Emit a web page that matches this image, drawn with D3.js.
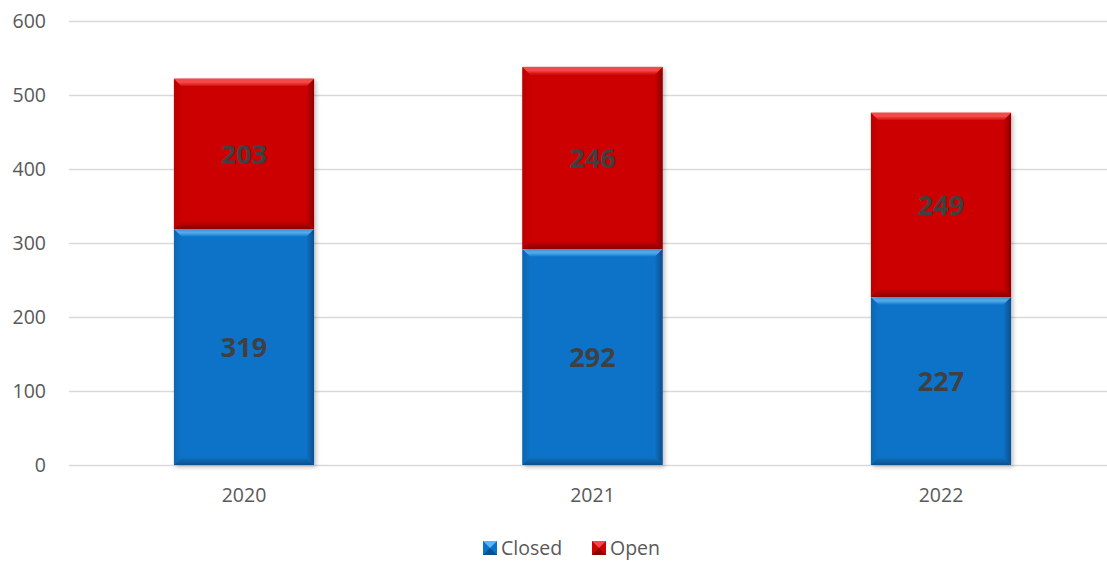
<!DOCTYPE html>
<html>
<head>
<meta charset="utf-8">
<script src="https://cdn.jsdelivr.net/npm/d3@7"></script>
<style>
html,body{margin:0;padding:0;background:#fff;}
svg{display:block;font-family:"Open Sans",sans-serif;}
</style>
</head>
<body>
<svg id="chart" width="1107" height="561"></svg>
<script>
const categories = ["2020", "2021", "2022"];
const closedValues = [319, 292, 227];
const openValues = [203, 246, 249];
const seriesNames = ["Closed", "Open"];
const yTicks = [0, 100, 200, 300, 400, 500, 600];

const W = 1107, H = 561;
const svg = d3.select("#chart");
const defs = svg.append("defs");

const x = d3.scaleBand().domain(categories).range([69.75, 1115.25]).paddingInner(0.598).paddingOuter(0.299);
const y = d3.scaleLinear().domain([0, 600]).range([465, 21]);

const palette = {
  Closed: {base: "#0873c8", light: "#5ab4fa", dark: "#0a4f8c", side: "#0b66b0"},
  Open:   {base: "#cc0303", light: "#f54848", dark: "#8a0202", side: "#b80303"}
};

seriesNames.forEach(s => {
  const p = palette[s];
  const gt = defs.append("linearGradient").attr("id", "top" + s).attr("x1", 0).attr("y1", 0).attr("x2", 0).attr("y2", 1);
  gt.append("stop").attr("offset", "0%").attr("stop-color", p.light);
  gt.append("stop").attr("offset", "45%").attr("stop-color", p.light);
  gt.append("stop").attr("offset", "100%").attr("stop-color", p.base);
  const gb = defs.append("linearGradient").attr("id", "bot" + s).attr("x1", 0).attr("y1", 0).attr("x2", 0).attr("y2", 1);
  gb.append("stop").attr("offset", "0%").attr("stop-color", p.base);
  gb.append("stop").attr("offset", "100%").attr("stop-color", p.dark);
  const gl = defs.append("linearGradient").attr("id", "left" + s).attr("x1", 0).attr("y1", 0).attr("x2", 1).attr("y2", 0);
  gl.append("stop").attr("offset", "0%").attr("stop-color", p.side);
  gl.append("stop").attr("offset", "100%").attr("stop-color", p.base);
  const gr = defs.append("linearGradient").attr("id", "right" + s).attr("x1", 0).attr("y1", 0).attr("x2", 1).attr("y2", 0);
  gr.append("stop").attr("offset", "0%").attr("stop-color", p.base);
  gr.append("stop").attr("offset", "100%").attr("stop-color", p.dark);
});
const shadow = defs.append("filter").attr("id", "shadow").attr("x", "-10%").attr("y", "-10%").attr("width", "130%").attr("height", "130%");
shadow.append("feDropShadow").attr("dx", 2).attr("dy", 2).attr("stdDeviation", 2).attr("flood-color", "#000").attr("flood-opacity", 0.25);

svg.append("g").selectAll("line").data(yTicks).join("line")
  .attr("x1", 69).attr("x2", W)
  .attr("y1", d => Math.round(y(d)) + 0.5).attr("y2", d => Math.round(y(d)) + 0.5)
  .attr("stroke", "#d9d9d9").attr("stroke-width", 1.5);

svg.append("g").selectAll("text").data(yTicks).join("text")
  .attr("x", 46).attr("y", d => y(d)).attr("dy", "0.35em")
  .attr("text-anchor", "end").attr("font-size", 19.5).attr("fill", "#595959")
  .text(d => d);

svg.append("g").selectAll("text").data(categories).join("text")
  .attr("x", d => x(d) + x.bandwidth() / 2).attr("y", 495).attr("dy", "0.35em")
  .attr("text-anchor", "middle").attr("font-size", 19.5).attr("fill", "#595959")
  .text(d => d);

const table = categories.map((c, i) => ({cat: c, Closed: closedValues[i], Open: openValues[i]}));
const stack = d3.stack().keys(seriesNames)(table);

const segs = [];
stack.forEach(layer => {
  layer.forEach(d => {
    segs.push({key: layer.key, cat: d.data.cat, v0: d[0], v1: d[1], value: d[1] - d[0]});
  });
});

const g = svg.append("g");
const b = 8;
segs.forEach(s => {
  const x0 = x(s.cat), x1 = x0 + x.bandwidth();
  const yt = y(s.v1), yb = y(s.v0);
  const sg = g.append("g").attr("filter", "url(#shadow)");
  sg.append("rect").attr("x", x0).attr("y", yt).attr("width", x1 - x0).attr("height", yb - yt).attr("fill", palette[s.key].base);
  sg.append("path").attr("d", `M${x0},${yt}L${x0 + b},${yt + b}L${x0 + b},${yb - b}L${x0},${yb}Z`).attr("fill", `url(#left${s.key})`);
  sg.append("path").attr("d", `M${x1},${yt}L${x1 - b},${yt + b}L${x1 - b},${yb - b}L${x1},${yb}Z`).attr("fill", `url(#right${s.key})`);
  sg.append("path").attr("d", `M${x0},${yt}L${x1},${yt}L${x1 - b},${yt + b}L${x0 + b},${yt + b}Z`).attr("fill", `url(#top${s.key})`);
  sg.append("path").attr("d", `M${x0},${yb}L${x1},${yb}L${x1 - b},${yb - b}L${x0 + b},${yb - b}Z`).attr("fill", `url(#bot${s.key})`);
});

g.selectAll("text.val").data(segs).join("text").attr("class", "val")
  .attr("x", d => x(d.cat) + x.bandwidth() / 2)
  .attr("y", d => (y(d.v0) + y(d.v1)) / 2).attr("dy", "0.36em")
  .attr("text-anchor", "middle").attr("font-size", 27).attr("font-weight", "bold").attr("fill", "#404040")
  .text(d => d.value);

const legend = svg.append("g");
const legendItems = [{name: "Closed", x: 483}, {name: "Open", x: 592}];
legendItems.forEach(it => {
  const p = palette[it.name];
  const lg = legend.append("g");
  lg.append("rect").attr("x", it.x).attr("y", 541).attr("width", 14).attr("height", 14).attr("fill", p.base);
  lg.append("path").attr("d", `M${it.x},541L${it.x + 14},541L${it.x + 7},548Z`).attr("fill", p.light);
  lg.append("path").attr("d", `M${it.x},555L${it.x + 14},555L${it.x + 7},548Z`).attr("fill", p.dark);
  lg.append("text").attr("x", it.x + 18).attr("y", 548).attr("dy", "0.35em")
    .attr("font-size", 19.5).attr("fill", "#595959").text(it.name);
});
</script>
</body>
</html>
